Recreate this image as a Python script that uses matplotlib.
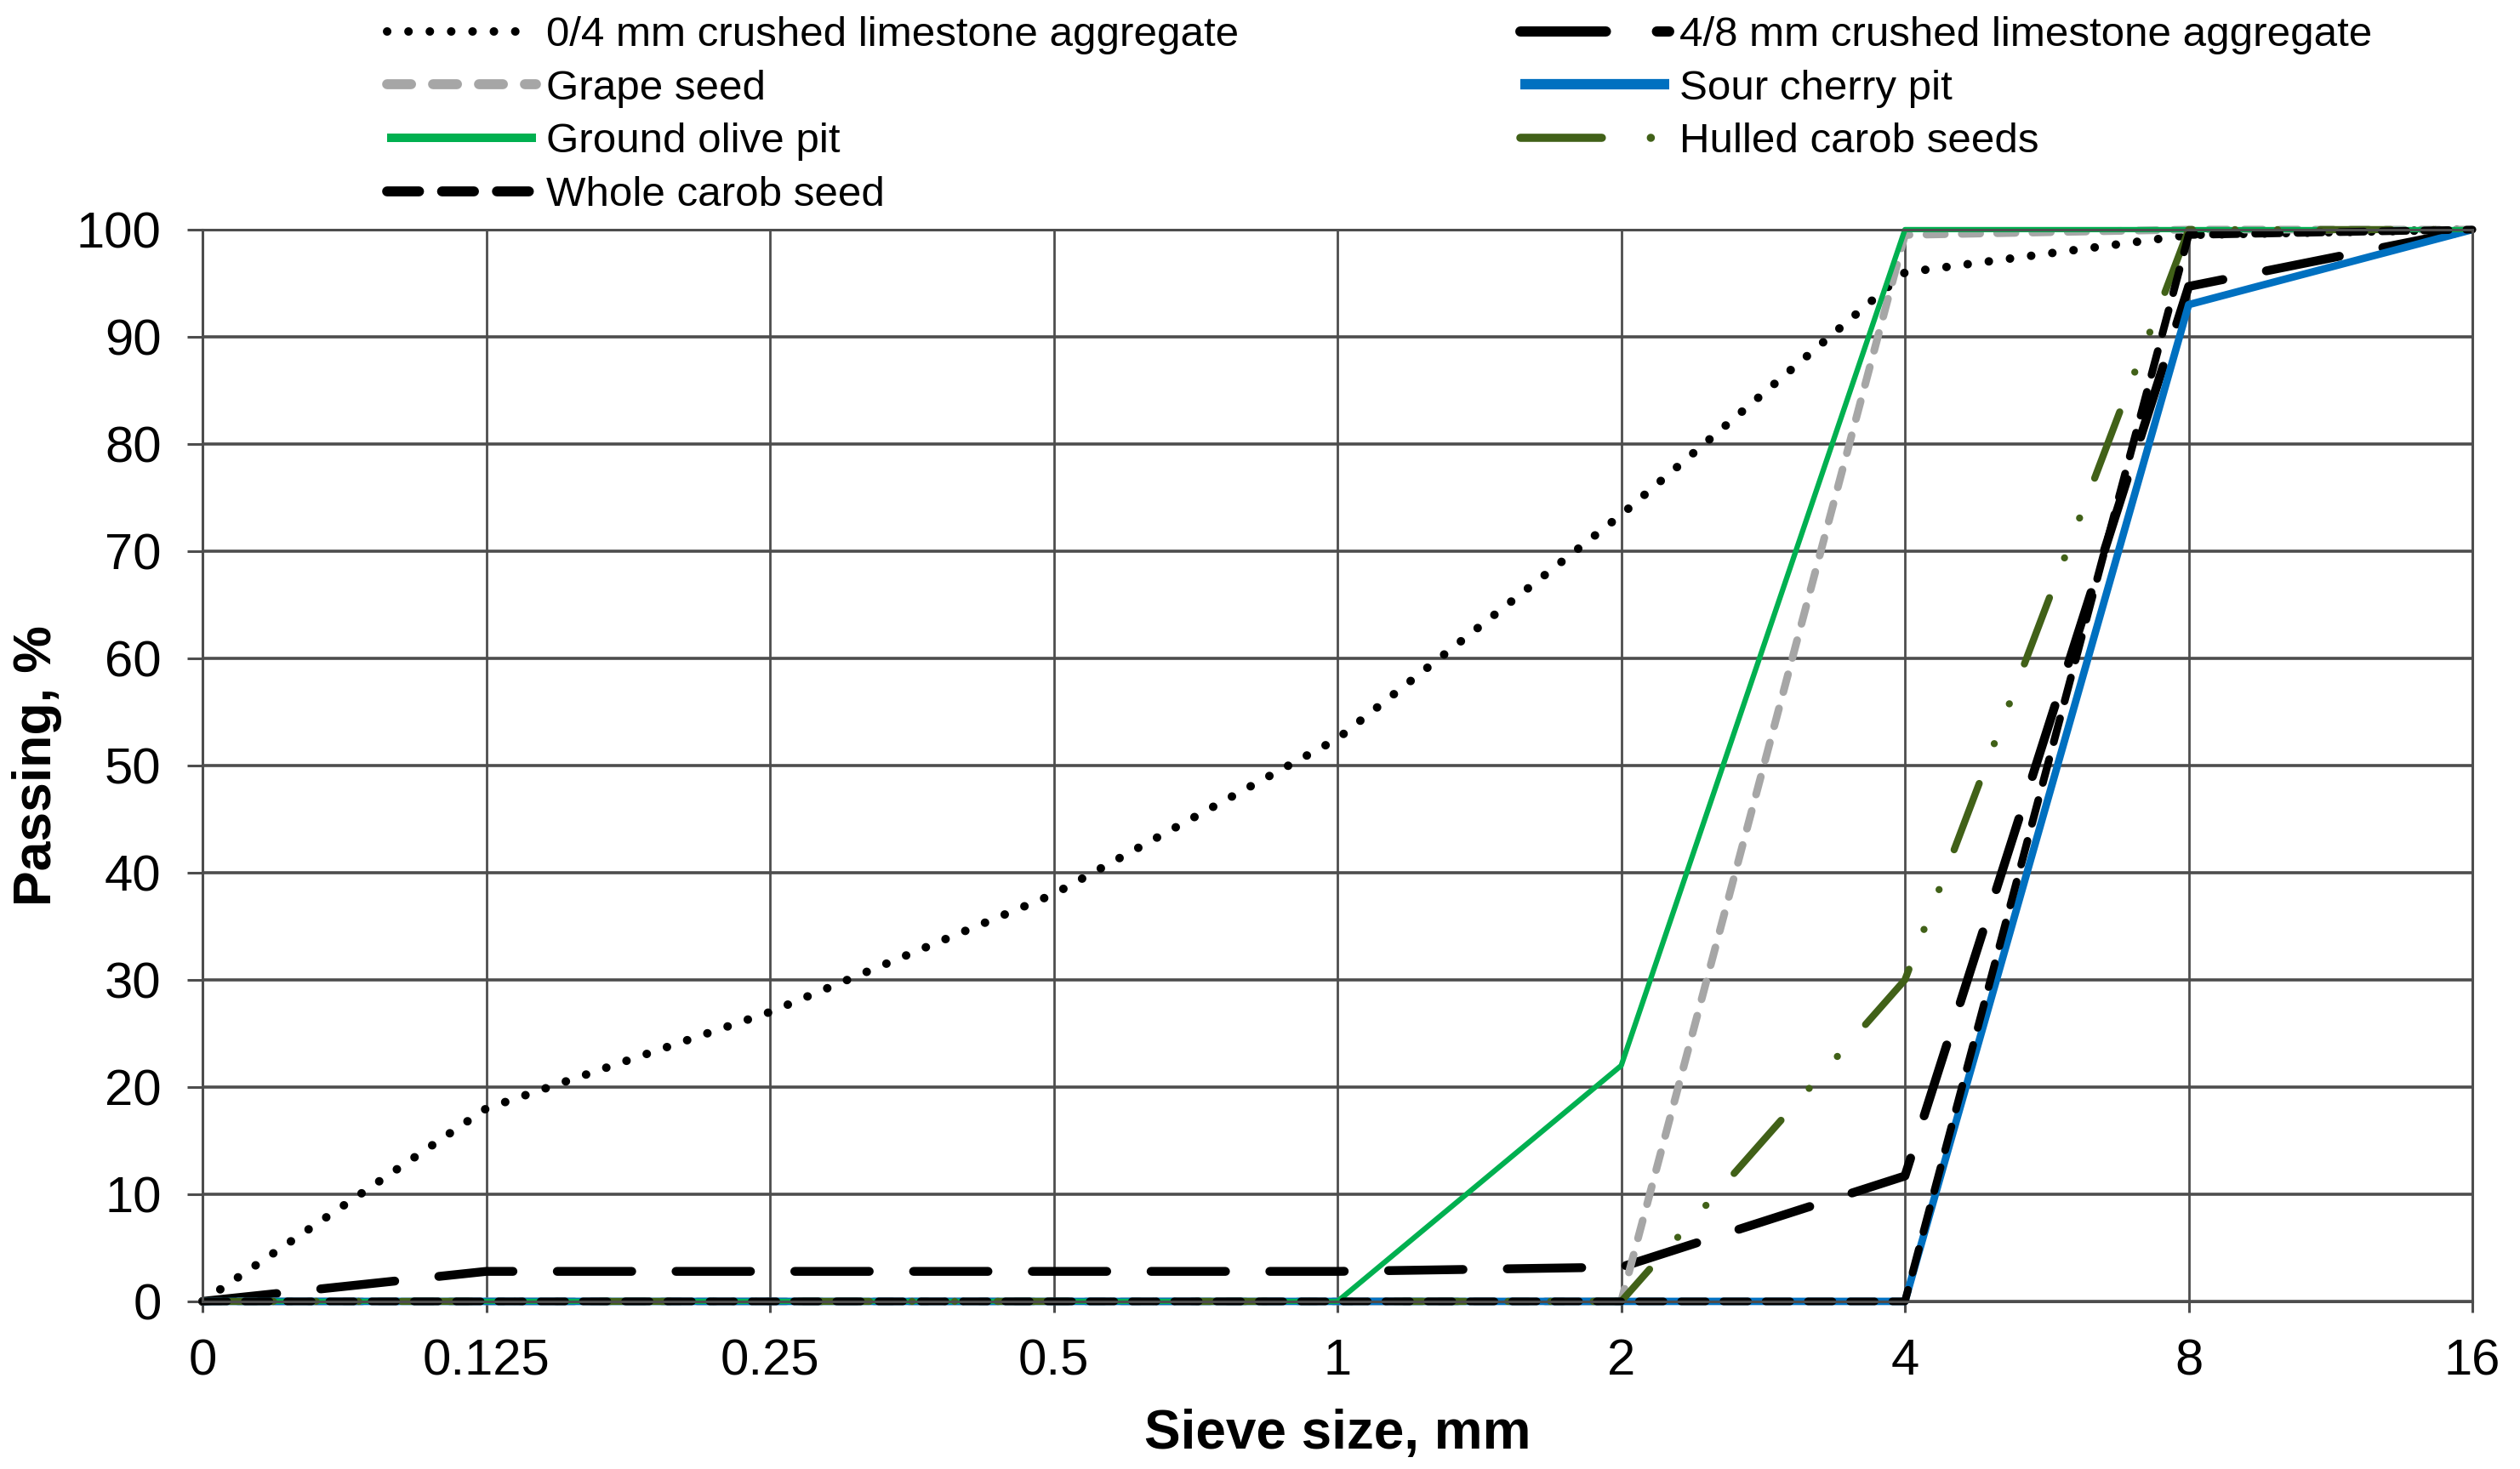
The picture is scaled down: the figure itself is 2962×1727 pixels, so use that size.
import matplotlib
matplotlib.use('Agg')
import matplotlib.pyplot as plt

# sieve sizes (evenly spaced categories) and % passing for each material
sieve_sizes = ['0', '0.125', '0.25', '0.5', '1', '2', '4', '8', '16']
lime_0_4 = [0, 18, 27, 38, 52.5, 73.4, 96, 99.5, 100]
lime_4_8 = [0, 2.8, 2.8, 2.8, 2.8, 3.2, 11.7, 94.7, 100]
grape_seed = [0, 0, 0, 0, 0, 0, 99.5, 100, 100]
sour_cherry = [0, 0, 0, 0, 0, 0, 0, 93, 100]
ground_olive = [0, 0, 0, 0, 0, 22, 100, 100, 100]
hulled_carob = [0, 0, 0, 0, 0, 0, 30, 100, 100]
whole_carob = [0, 0, 0, 0, 0, 0, 0, 99.5, 100]

labels = ['0/4 mm crushed limestone aggregate', '4/8 mm crushed limestone aggregate',
          'Grape seed', 'Sour cherry pit', 'Ground olive pit', 'Hulled carob seeds',
          'Whole carob seed']

plt.rcParams['font.family'] = ['Liberation Sans', 'DejaVu Sans']

fig = plt.figure(figsize=(29.62, 17.27), dpi=100)
ax = fig.add_axes([0.0804, 0.1141, 0.9007, 0.7296])

x = list(range(len(sieve_sizes)))
grid_c = '#4d4d4d'

series = [
    (lime_0_4, dict(color='black', lw=7.2, dashes=(0.01, 2.5), dash_capstyle='round')),
    (lime_4_8, dict(color='black', lw=7.5, dashes=(8.4, 5.0), dash_capstyle='round')),
    (grape_seed, dict(color='#a6a6a6', lw=6.5, dashes=(2.4, 2.2), dash_capstyle='round')),
    (sour_cherry, dict(color='#0070c0', lw=6.3, solid_capstyle='butt')),
    (ground_olive, dict(color='#00b050', lw=4.5, solid_capstyle='butt')),
    (hulled_carob, dict(color='#416118', lw=6.0, dashes=(10, 6, 0.01, 6, 0.01, 6),
                        dash_capstyle='round')),
    (whole_carob, dict(color='black', lw=6.5, dashes=(3.2, 2.3), dash_capstyle='round')),
]
# legend handles in the original are drawn heavier than the plotted lines
legend_scale = [1.0, 1.15, 1.3, 1.4, 1.6, 1.15, 1.3]

handles = []
for (vals, style), lab in zip(series, labels):
    h, = ax.plot(x, vals, label=lab, clip_on=False, **style)
    handles.append(h)

ax.set_xlim(0, 8)
ax.set_ylim(0, 100)
ax.set_xticks(x)
ax.set_xticklabels(sieve_sizes)
ax.set_yticks(range(0, 101, 10))
ax.grid(True, axis='y', color=grid_c, lw=2.6, zorder=0)
ax.grid(True, axis='x', color=grid_c, lw=2.0, zorder=0)
ax.set_axisbelow(True)
for s in ax.spines.values():
    s.set_color(grid_c)
    s.set_linewidth(2.2)
ax.tick_params(axis='both', colors=grid_c, labelcolor='black', labelsize=43,
               width=2.2)
ax.tick_params(axis='y', length=13, pad=22)
ax.tick_params(axis='x', length=9, pad=22)

ax.set_xlabel('Sieve size, mm', fontsize=46, fontweight='bold', labelpad=20)
ax.set_ylabel('Passing, %', fontsize=45, fontweight='bold', labelpad=12)

# legend: excel order is row-major, matplotlib fills columns first
order = [0, 2, 4, 6, 1, 3, 5]
leg = fig.legend([handles[i] for i in order], [labels[i] for i in order],
                 loc='upper left', bbox_to_anchor=(0.1536, 0.989), ncol=2,
                 frameon=False, fontsize=35.5, handlelength=3.55, handletextpad=0.25,
                 columnspacing=6.7, labelspacing=0.36, borderpad=0, borderaxespad=0)
for lh, i in zip(leg.legend_handles, order):
    lh.set_linewidth(series[i][1]['lw'] * legend_scale[i])

fig.savefig('out.png', dpi=100)
